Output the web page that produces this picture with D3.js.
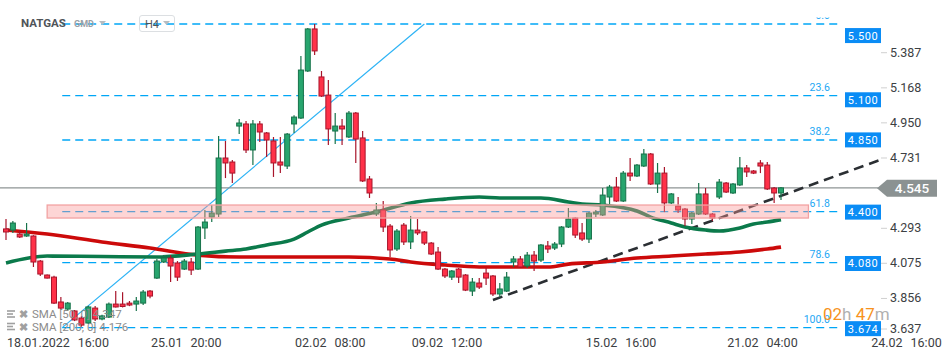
<!DOCTYPE html>
<html><head><meta charset="utf-8">
<script src="https://cdn.jsdelivr.net/npm/d3@7"></script>
<style>body{margin:0;background:#fff;} svg{display:block;font-family:Roboto,"Noto Sans",sans-serif;}</style>
</head><body><svg id="c" width="950" height="360"></svg>
<script>
// ---------- DATA ----------
const opens = [4.289,4.282,4.257,4.245,4.245,4.089,4.002,3.989,3.834,3.790,
3.778,3.734,3.703,3.796,3.728,3.740,3.821,3.821,3.827,3.821,
3.827,3.902,3.983,4.083,4.108,4.077,4.039,4.083,4.039,4.295,
4.363,4.382,4.731,4.706,4.930,4.943,4.781,4.943,4.887,4.837,
4.706,4.681,4.943,4.980,5.273,5.535,5.236,5.123,4.899,4.930,
4.862,5.011,4.856,4.600,4.382,4.407,4.307,4.164,4.313,4.208,
4.282,4.270,4.201,4.145,4.039,3.989,4.039,4.002,3.902,3.952,
4.014,3.996,3.884,3.902,4.083,4.102,4.058,4.126,4.095,4.183,
4.170,4.195,4.301,4.357,4.264,4.226,4.382,4.376,4.488,4.550,
4.463,4.637,4.619,4.681,4.756,4.569,4.637,4.451,4.432,4.413,
4.351,4.382,4.507,4.382,4.488,4.575,4.513,4.563,4.669,4.650,
4.700,4.687,4.544,4.513];
const highs = [4.351,4.338,4.282,4.326,4.250,4.095,4.005,3.998,3.865,3.834,
3.784,3.747,3.810,3.809,3.755,3.830,3.902,3.895,3.840,3.865,
3.908,3.908,4.102,4.126,4.126,4.089,4.102,4.108,4.307,4.407,
4.438,4.868,4.837,4.718,4.974,4.961,4.968,4.961,4.893,4.862,
4.862,4.887,4.998,5.366,5.541,5.566,5.273,5.217,5.011,4.974,
5.024,5.017,4.899,4.619,4.451,4.463,4.320,4.289,4.326,4.370,
4.351,4.276,4.208,4.176,4.045,4.033,4.045,4.008,3.983,3.983,
4.045,4.002,3.952,4.020,4.120,4.120,4.145,4.151,4.195,4.214,
4.208,4.307,4.419,4.363,4.326,4.394,4.407,4.544,4.563,4.613,
4.650,4.731,4.693,4.787,4.762,4.700,4.675,4.513,4.488,4.419,
4.394,4.575,4.544,4.388,4.600,4.581,4.575,4.737,4.687,4.656,
4.718,4.706,4.550,4.550];
const lows = [4.220,4.264,4.232,4.240,4.052,3.996,3.980,3.821,3.784,3.778,
3.715,3.680,3.697,3.715,3.720,3.734,3.800,3.800,3.808,3.778,
3.815,3.858,3.977,4.077,3.958,3.965,4.033,4.002,4.033,4.226,
4.332,4.363,4.606,4.575,4.880,4.762,4.687,4.830,4.737,4.613,
4.637,4.662,4.887,4.974,5.267,5.373,5.111,4.812,4.818,4.812,
4.856,4.700,4.581,4.482,4.370,4.270,4.114,4.151,4.189,4.164,
4.251,4.189,4.126,4.033,3.983,3.971,3.952,3.902,3.871,3.915,
3.940,3.871,3.865,3.896,4.052,4.045,4.045,4.027,4.083,4.139,
4.158,4.176,4.295,4.232,4.214,4.201,4.363,4.370,4.438,4.457,
4.457,4.588,4.613,4.675,4.563,4.513,4.394,4.444,4.388,4.307,
4.320,4.376,4.376,4.339,4.475,4.513,4.507,4.557,4.613,4.631,
4.637,4.531,4.451,4.469];
const closes = [4.270,4.326,4.239,4.257,4.083,4.008,3.983,3.827,3.796,3.827,
3.722,3.690,3.803,3.728,3.747,3.821,3.803,3.806,3.815,3.840,
3.896,3.871,4.089,4.108,4.058,3.989,4.089,4.033,4.301,4.332,
4.388,4.731,4.700,4.637,4.949,4.781,4.943,4.893,4.843,4.700,
4.687,4.880,4.986,5.279,5.535,5.398,5.117,4.912,4.930,4.912,
5.011,4.849,4.588,4.513,4.407,4.301,4.158,4.276,4.208,4.282,
4.264,4.201,4.133,4.039,3.996,4.027,3.989,3.908,3.958,3.927,
3.983,3.884,3.915,3.989,4.102,4.052,4.126,4.089,4.189,4.164,
4.195,4.301,4.351,4.251,4.226,4.388,4.394,4.500,4.550,4.463,
4.637,4.619,4.687,4.756,4.569,4.637,4.451,4.507,4.407,4.351,
4.388,4.507,4.382,4.357,4.581,4.519,4.569,4.669,4.644,4.637,
4.681,4.538,4.513,4.545];

const sma50Idx = [0,6,14,22,28,32,35,38,42,44,46,50,54,59,64,69,72,75,78,82,84,87,92,94,97,99,102,104,107,109,111,113];
const sma50Val = [4.077,4.120,4.117,4.114,4.133,4.151,4.164,4.189,4.226,4.270,4.313,4.357,4.394,4.451,4.475,4.488,4.482,4.482,4.482,4.457,4.444,4.438,4.401,4.363,4.326,4.301,4.282,4.276,4.295,4.320,4.332,4.347];
const sma200Idx = [0,6,14,21,28,34,43,50,56,59,64,69,79,82,87,92,97,102,107,111,113];
const sma200Val = [4.282,4.257,4.208,4.170,4.126,4.114,4.114,4.114,4.102,4.083,4.064,4.052,4.052,4.070,4.083,4.108,4.120,4.133,4.145,4.164,4.176];

const yTicks = [5.387,5.168,4.950,4.731,4.293,4.075,3.856,3.637];
const xTickIdx = [0,21,42,59,84.4,105,126];
const xTickDate = ["18.01.2022","25.01","02.02","09.02","15.02","21.02","24.02"];
const xTickTime = ["16:00","20:00","08:00","12:00","16:00","04:00","16:00"];

const fibLevels = [0,23.6,38.2,61.8,78.6,100];
const fibLabels = ["0.0","23.6","38.2","61.8","78.6","100.0"];
const fibHigh = 5.566, fibLow = 3.674, fibFromIdx = 8.2, fibToIdx = 61;
const levelPrices = [5.500,5.100,4.850,4.400,4.080,3.674];

const zoneTop = 4.438, zoneBottom = 4.357, zoneFromIdx = 6, zoneToIdx = 117;
const trendFrom = [71,3.846], trendTo = [127.4,4.718];
const lastPrice = 4.545;
const smaLegend = [["[50, 0]","4.347"],["[200, 0]","4.176"]];

// ---------- DRAW ----------
const svg = d3.select("#c");
const x = d3.scaleLinear().domain([0,113]).range([6,781]);
const y = d3.scaleLinear().domain([3.637,5.387]).range([333.6,52.7]);

svg.append("defs").append("clipPath").attr("id","clipTop")
  .append("rect").attr("x",0).attr("y",17.5).attr("width",950).attr("height",344);

const plot = svg.append("g");
const FIB_RIGHT = 838;

// fib horizontal lines
const fibY = p => y(fibHigh - p/100*(fibHigh-fibLow));
plot.selectAll(".fib").data(fibLevels).enter().append("line")
  .attr("x1",x(fibFromIdx)).attr("x2",FIB_RIGHT)
  .attr("y1",d=>fibY(d)).attr("y2",d=>fibY(d))
  .attr("stroke","#00a6f6").attr("stroke-width",1.4).attr("stroke-dasharray","8,5");

// diagonal fib line
plot.append("line")
  .attr("x1",x(fibFromIdx)).attr("y1",y(fibLow))
  .attr("x2",x(fibToIdx)).attr("y2",y(fibHigh))
  .attr("stroke","#2db3f5").attr("stroke-width",1.2);

// legend (under candles)
const leg = svg.append("g");
smaLegend.forEach((d,i)=>{
  const cy = 314 + i*12.5;
  [-3,0,3].forEach(o=>leg.append("rect").attr("x",7).attr("y",cy+o-0.8).attr("width",o===0?6:8).attr("height",1.6).attr("fill","#a0a0a0"));
  leg.append("text").attr("x",23.5).attr("y",cy+4).attr("text-anchor","middle").attr("font-size",11).attr("fill","#a0a0a0").attr("font-weight","bold").text("✖");
  leg.append("text").attr("x",32).attr("y",cy+4).attr("font-size",11.5).attr("fill","#8c8c8c").text("SMA  "+d[0]+"  "+d[1]);
});

// current price line
plot.append("line").attr("x1",0).attr("x2",880).attr("y1",y(lastPrice)).attr("y2",y(lastPrice))
  .attr("stroke","#8e9494").attr("stroke-width",1.2);

// trend line
plot.append("line").attr("x1",x(trendFrom[0])).attr("y1",y(trendFrom[1]))
  .attr("x2",x(trendTo[0])).attr("y2",y(trendTo[1]))
  .attr("stroke","#2b2f33").attr("stroke-width",2.6).attr("stroke-dasharray","10,6");

// SMA lines
const line = d3.line().x(d=>x(d[0])).y(d=>y(d[1])).curve(d3.curveMonotoneX);
plot.append("path").datum(sma200Idx.map((d,i)=>[d,sma200Val[i]])).attr("d",line)
  .attr("fill","none").attr("stroke","#cc0a0a").attr("stroke-width",3.6);
plot.append("path").datum(sma50Idx.map((d,i)=>[d,sma50Val[i]])).attr("d",line)
  .attr("fill","none").attr("stroke","#0b7a4b").attr("stroke-width",3.6);

// candles
const candles = opens.map((o,i)=>({i,o,h:highs[i],l:lows[i],c:closes[i]}));
const cg = plot.selectAll(".cd").data(candles).enter().append("g");
const up = d=>d.c>=d.o;
cg.append("line").attr("x1",d=>x(d.i)).attr("x2",d=>x(d.i))
  .attr("y1",d=>y(d.h)).attr("y2",d=>y(d.l))
  .attr("stroke",d=>up(d)?"#17724a":"#a8152b").attr("stroke-width",1.2);
cg.append("rect").attr("x",d=>x(d.i)-2.5).attr("width",5)
  .attr("y",d=>y(Math.max(d.o,d.c)))
  .attr("height",d=>Math.max(1.5,Math.abs(y(d.o)-y(d.c))))
  .attr("fill",d=>up(d)?"#27a56e":"#ff3148")
  .attr("stroke",d=>up(d)?"#17724a":"#a8152b").attr("stroke-width",1);

// zone (over everything)
plot.append("rect").attr("x",x(zoneFromIdx)).attr("width",x(zoneToIdx)-x(zoneFromIdx))
  .attr("y",y(zoneTop)).attr("height",y(zoneBottom)-y(zoneTop))
  .attr("fill","rgba(250,150,150,0.4)").attr("stroke","#f2a2a2").attr("stroke-width",1.3);

// fib labels
svg.append("g").attr("clip-path","url(#clipTop)").selectAll("text").data(fibLevels).enter().append("text")
  .attr("x",830).attr("y",(d)=>fibY(d)-5).attr("text-anchor","end")
  .attr("font-size",10.5).attr("fill","#1ea7f4").text((d,i)=>fibLabels[i]);

// level boxes
const bx = svg.append("g").selectAll("g").data(levelPrices).enter().append("g");
bx.append("rect").attr("x",845).attr("width",36).attr("y",d=>y(d)+1-7.5).attr("height",15).attr("fill","#0a8cf5");
bx.append("text").attr("x",863).attr("y",d=>y(d)+1+4).attr("text-anchor","middle")
  .attr("font-size",11).attr("fill","#fff").attr("letter-spacing",0.6).text(d=>d.toFixed(3));

// right axis
const ax = svg.append("g").attr("transform","translate(881,0)")
  .call(d3.axisRight(y).tickValues(yTicks).tickSize(6).tickPadding(3).tickFormat(d3.format(".3f")));
ax.select(".domain").remove();
ax.selectAll(".tick line").attr("stroke","#d0d0d0");
ax.selectAll(".tick text").attr("font-size",12.5).attr("fill","#3c4043").attr("font-family","Roboto");
ax.selectAll(".tick").attr("transform",d=>`translate(0,${Math.min(y(d),329)})`);

// price tag
const ty = y(lastPrice)+0.5;
svg.append("path").attr("d",`M877,${ty} L887,${ty-8.5} L937,${ty-8.5} L937,${ty+8.5} L887,${ty+8.5} Z`).attr("fill","#8b9292");
svg.append("text").attr("x",912).attr("y",ty+5).attr("text-anchor","middle").attr("font-size",13.5)
  .attr("fill","#fff").attr("font-weight","500").text(lastPrice.toFixed(3));

// bottom labels
const bl = svg.append("g").selectAll("text").data(xTickIdx).enter().append("text")
  .attr("x",d=>x(d)+1).attr("y",347).attr("font-size",12.5).attr("fill","#3c4043");
bl.append("tspan").text((d,i)=>xTickDate[i]);
bl.append("tspan").attr("dx",8).text((d,i)=>xTickTime[i]);

// countdown
const cd = svg.append("text").attr("x",823).attr("y",320).attr("font-size",17);
cd.append("tspan").attr("fill","#f7931e").text("02");
cd.append("tspan").attr("fill","#b0b0b0").text("h ");
cd.append("tspan").attr("fill","#f7931e").text("47");
cd.append("tspan").attr("fill","#b0b0b0").text("m");

// header
svg.append("text").attr("x",21).attr("y",27).attr("font-size",11.5).attr("font-weight","bold").attr("fill","#4f5459").text("NATGAS");
svg.append("text").attr("x",74).attr("y",27).attr("font-size",9).attr("font-weight","bold").attr("fill","#9aa0a6").text("GMD");
svg.append("path").attr("d","M99,21 L106,21 L102.5,25 Z").attr("fill","#b8bcc0");
svg.append("rect").attr("x",139.5).attr("y",15.5).attr("width",35).attr("height",16).attr("rx",2.5).attr("fill","none").attr("stroke","#dcdfe2");
svg.append("text").attr("x",145).attr("y",28).attr("font-size",11).attr("fill","#4f5459").text("H4");
svg.append("path").attr("d","M163,21 L170,21 L166.5,25 Z").attr("fill","#b8bcc0");
</script></body></html>
